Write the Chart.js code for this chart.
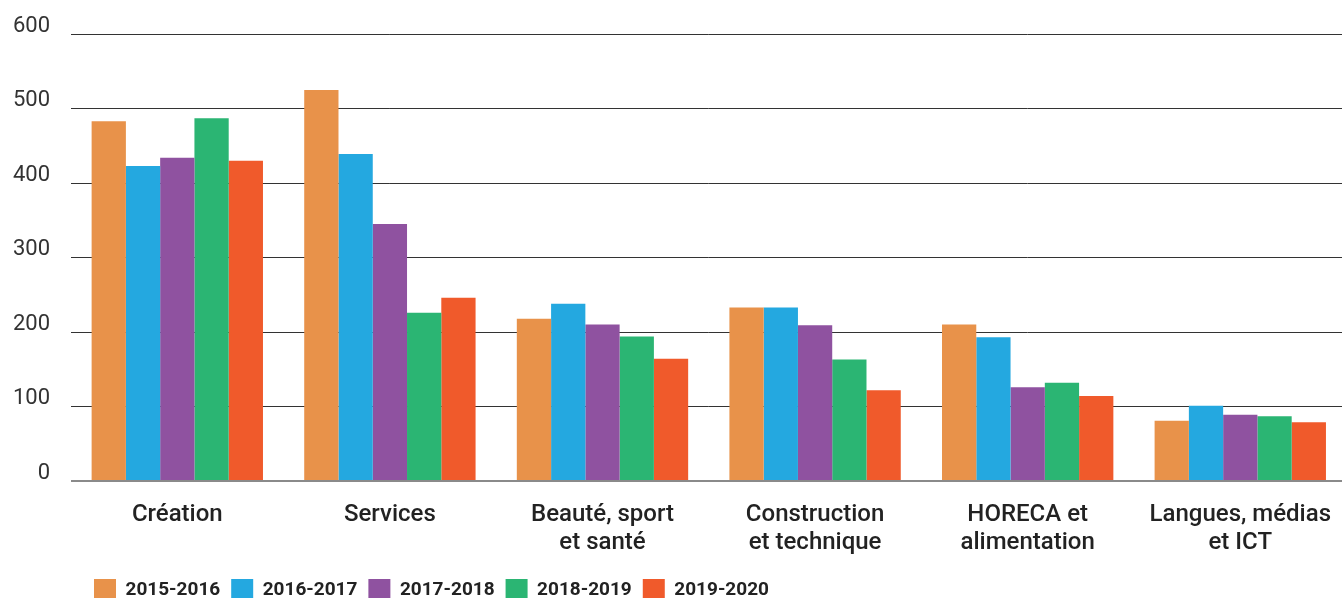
<!DOCTYPE html>
<html lang="fr">
<head>
  <meta charset="UTF-8">
  <title>Inscriptions par domaine</title>
  <script src="https://cdn.jsdelivr.net/npm/chart.js"></script>
  <style>
    body {
      margin: 0;
      padding: 0;
      background: #fff;
      overflow: hidden;
    }
    #wrap {
      width: 1351px;
      height: 598px;
    }
  </style>
</head>
<body>
  <div id="wrap">
    <canvas id="chart" width="1351" height="598"></canvas>
  </div>

  <script>
    // categories (multi-line labels)
    const categories = [
      ['Création'],
      ['Services'],
      ['Beauté, sport', 'et santé'],
      ['Construction', 'et technique'],
      ['HORECA et', 'alimentation'],
      ['Langues, médias', 'et ICT']
    ];

    const seriesNames = ['2015-2016', '2016-2017', '2017-2018', '2018-2019', '2019-2020'];

    // values
    const y2015 = [483, 525, 218, 233, 210, 81];
    const y2016 = [423, 439, 238, 233, 193, 101];
    const y2017 = [434, 345, 210, 209, 126, 89];
    const y2018 = [487, 226, 194, 163, 132, 87];
    const y2019 = [430, 246, 164, 122, 114, 79];

    const yTicks = [0, 100, 200, 300, 400, 500, 600];

    const colors = ['#E8924A', '#24A8E0', '#8F52A0', '#2BB573', '#F05A2B'];
    const values = [y2015, y2016, y2017, y2018, y2019];

    // move the legend to the left, under the plot
    const legendPlace = {
      id: 'legendPlace',
      afterLayout(chart) {
        chart.legend.left = 83;
        chart.legend.top = 568;
      }
    };

    const ctx = document.getElementById('chart').getContext('2d');
    const chart = new Chart(ctx, {
      type: 'bar',
      data: {
        labels: categories,
        datasets: seriesNames.map((name, i) => ({
          label: name,
          data: values[i],
          backgroundColor: colors[i],
          borderWidth: 0,
          categoryPercentage: 0.806,
          barPercentage: 1.0
        }))
      },
      plugins: [legendPlace],
      options: {
        responsive: false,
        animation: false,
        layout: {
          padding: { top: 33, right: 0, left: 0, bottom: 0 }
        },
        plugins: {
          tooltip: { enabled: false },
          legend: {
            position: 'bottom',
            align: 'start',
            maxHeight: 37,
            labels: {
              boxWidth: 22,
              boxHeight: 22,
              padding: 11,
              color: '#222',
              font: { family: 'Roboto', size: 19, weight: 'bold' }
            }
          }
        },
        scales: {
          x: {
            grid: { display: false, drawTicks: false },
            border: { display: false },
            ticks: {
              color: '#222',
              padding: 20,
              maxRotation: 0,
              autoSkip: false,
              font: { family: 'Roboto', size: 24, weight: 500, lineHeight: '28px' }
            },
            afterFit(scale) {
              scale.height = 80;
            }
          },
          y: {
            min: 0,
            max: 600,
            afterBuildTicks(scale) {
              scale.ticks = yTicks.map(v => ({ value: v }));
            },
            grid: {
              drawTicks: false,
              color: c => (c.tick && c.tick.value === 0) ? '#8a8a8a' : '#333',
              lineWidth: c => (c.tick && c.tick.value === 0) ? 2 : 1
            },
            border: { display: false },
            ticks: {
              color: '#333',
              padding: 21,
              labelOffset: -8,
              font: { family: 'Roboto', size: 22 }
            },
            afterFit(scale) {
              scale.width = 71;
            }
          }
        }
      }
    });
  </script>
</body>
</html>
